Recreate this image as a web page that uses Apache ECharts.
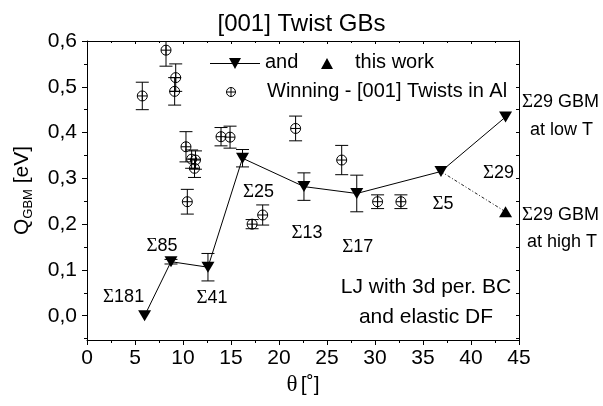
<!DOCTYPE html>
<html>
<head>
<meta charset="utf-8">
<script src="https://cdn.jsdelivr.net/npm/echarts@6/dist/echarts.min.js"></script>
<style>
  html, body { margin: 0; padding: 0; background: #fff; }
  #chart { width: 603px; height: 406px; }
</style>
</head>
<body>
<div id="chart"></div>
<script>
// LJ simulation: GB migration activation energy of [001] twist boundaries
const simTheta = [6.0, 8.75, 12.6, 16.2, 22.6, 28.1, 36.87, 43.6];
const simQ     = [0.0, 0.118, 0.106, 0.344, 0.282, 0.267, 0.315, 0.434];
const simErr   = [0, 0.005, 0.03, 0.019, 0.03, 0.04, 0, 0];
const simNames = ['181', '85', '41', '25', '13', '17', '5', '29'];

// Σ29 at high temperature
const highTTheta = 43.6;
const highTQ = 0.227;

// Winning – [001] twists in Al
const expTheta = [5.76, 8.23, 9.24, 9.13, 10.31, 10.9, 11.3, 11.2, 10.45, 13.96, 14.9, 21.73, 17.2, 18.3, 26.53, 30.27, 32.7];
const expQ     = [0.480, 0.580, 0.520, 0.490, 0.369, 0.342, 0.340, 0.322, 0.249, 0.391, 0.390, 0.409, 0.200, 0.220, 0.340, 0.249, 0.249];
const expErr   = [0.030, 0.035, 0.030, 0.030, 0.033, 0.020, 0.020, 0.020, 0.027, 0.020, 0.024, 0.027, 0.010, 0.022, 0.032, 0.015, 0.015];

// axis ticks
const yMajor = [0, 0.1, 0.2, 0.3, 0.4, 0.5, 0.6];
const yMinor = [-0.05, 0.05, 0.15, 0.25, 0.35, 0.45, 0.55];

// label placement around the simulation points (pixels from the marker)
const sigmaOffsets = [[-21, -19], [-9, -16], [4, 31], [16, 34], [3, 46], [1, 54], [2, 33], [-7, 56]];

const SANS = '"Liberation Sans", Arial, Helvetica, sans-serif';
const SERIF = '"Liberation Serif", "Times New Roman", serif';
const BLACK = '#000';

const chart = echarts.init(document.getElementById('chart'), null, { renderer: 'canvas' });

function errorBar(api, x, y, e, children) {
  const lo = api.coord([x, y - e]);
  const hi = api.coord([x, y + e]);
  const w = 6.5;
  const st = { stroke: BLACK, lineWidth: 1 };
  children.push(
    { type: 'line', shape: { x1: lo[0], y1: lo[1], x2: hi[0], y2: hi[1] }, style: st },
    { type: 'line', shape: { x1: lo[0] - w, y1: lo[1], x2: lo[0] + w, y2: lo[1] }, style: st },
    { type: 'line', shape: { x1: hi[0] - w, y1: hi[1], x2: hi[0] + w, y2: hi[1] }, style: st }
  );
}

const simErrData = simTheta.map((t, i) => [t, simQ[i], simErr[i]]).filter(d => d[2] > 0);
const expData = expTheta.map((t, i) => [t, expQ[i], expErr[i]]);

const simLineData = simTheta.map((t, i) => ({
  value: [t, simQ[i]],
  label: {
    show: true,
    position: 'inside',
    formatter: '{g|Σ}{n|' + simNames[i] + '}',
    rich: {
      g: { fontFamily: SERIF, fontSize: 19, color: BLACK },
      n: { fontFamily: SANS, fontSize: 18, color: BLACK }
    }
  }
}));

const option = {
  animation: false,
  backgroundColor: '#fff',
  title: {
    text: '[001] Twist GBs',
    left: 'center',
    top: 7,
    textStyle: { fontFamily: SANS, fontSize: 24, fontWeight: 'normal', color: BLACK }
  },
  grid: { left: 87, right: 84, top: 41, bottom: 66, containLabel: false, outerBoundsMode: 'none' },
  xAxis: [
    {
      type: 'value', position: 'bottom', min: 0, max: 45, interval: 5,
      name: '{t|θ} {b|[˚]}',
      nameLocation: 'middle', nameGap: 30,
      nameTextStyle: {
        rich: {
          t: { fontFamily: SERIF, fontSize: 23, color: BLACK },
          b: { fontFamily: SANS, fontSize: 21, color: BLACK }
        }
      },
      axisLine: { onZero: false, lineStyle: { color: BLACK, width: 1 } },
      axisTick: { show: true, length: 5, lineStyle: { color: BLACK } },
      minorTick: { show: true, splitNumber: 2, length: 3, lineStyle: { color: BLACK } },
      axisLabel: { fontFamily: SANS, fontSize: 21, color: BLACK, margin: 8 },
      splitLine: { show: false }
    },
    {
      type: 'value', position: 'top', min: 0, max: 45, interval: 5,
      axisLine: { show: true, onZero: false, lineStyle: { color: BLACK, width: 1 } },
      axisTick: { show: true, inside: true, length: 3, lineStyle: { color: BLACK } },
      minorTick: { show: true, splitNumber: 2, length: 2, lineStyle: { color: BLACK } },
      axisLabel: { show: false },
      splitLine: { show: false }
    }
  ],
  yAxis: [
    {
      type: 'value', position: 'left', min: -0.053, max: 0.6,
      name: '{q|Q}{s|GBM}{q| [eV]}',
      nameLocation: 'middle', nameRotate: 90, nameGap: 52,
      nameTextStyle: {
        rich: {
          q: { fontFamily: SANS, fontSize: 21, lineHeight: 26, color: BLACK },
          s: { fontFamily: SANS, fontSize: 13, lineHeight: 14, verticalAlign: 'bottom', color: BLACK }
        }
      },
      axisLine: { show: true, onZero: false, lineStyle: { color: BLACK, width: 1 } },
      axisTick: { show: true, length: 5, customValues: yMajor, lineStyle: { color: BLACK } },
      axisLabel: {
        fontFamily: SANS, fontSize: 21, color: BLACK, margin: 10,
        customValues: yMajor,
        formatter: v => v.toFixed(1).replace('.', ',')
      },
      splitLine: { show: false }
    },
    {
      type: 'value', position: 'left', min: -0.053, max: 0.6,
      axisLine: { show: false, onZero: false },
      axisTick: { show: true, length: 3, customValues: yMinor, lineStyle: { color: BLACK } },
      axisLabel: { show: false, customValues: yMinor },
      splitLine: { show: false }
    },
    {
      type: 'value', position: 'right', min: -0.053, max: 0.6,
      axisLine: { show: true, onZero: false, lineStyle: { color: BLACK, width: 1 } },
      axisTick: { show: true, inside: true, length: 3, customValues: yMajor.concat(yMinor), lineStyle: { color: BLACK } },
      axisLabel: { show: false, customValues: yMajor },
      splitLine: { show: false }
    }
  ],
  series: [
    {
      name: 'sim error',
      type: 'custom',
      xAxisIndex: 0, yAxisIndex: 0,
      clip: true,
      data: simErrData,
      renderItem: (params, api) => {
        const children = [];
        errorBar(api, api.value(0), api.value(1), api.value(2), children);
        return { type: 'group', children };
      },
      z: 2
    },
    {
      name: 'Winning - [001] Twists in Al',
      type: 'custom',
      xAxisIndex: 0, yAxisIndex: 0,
      clip: true,
      data: expData,
      renderItem: (params, api) => {
        const x = api.value(0), y = api.value(1), e = api.value(2);
        const children = [];
        errorBar(api, x, y, e, children);
        const c = api.coord([x, y]);
        const r = 5;
        children.push(
          { type: 'circle', shape: { cx: c[0], cy: c[1], r }, style: { fill: 'none', stroke: BLACK, lineWidth: 1 } },
          { type: 'line', shape: { x1: c[0] - r, y1: c[1], x2: c[0] + r, y2: c[1] }, style: { stroke: BLACK, lineWidth: 1 } },
          { type: 'line', shape: { x1: c[0], y1: c[1] - r, x2: c[0], y2: c[1] + r }, style: { stroke: BLACK, lineWidth: 1 } }
        );
        return { type: 'group', children };
      },
      z: 2
    },
    {
      name: 'Σ29 high T',
      type: 'line',
      xAxisIndex: 0, yAxisIndex: 0,
      data: [
        { value: [simTheta[6], simQ[6]], symbol: 'none' },
        { value: [highTTheta, highTQ], symbol: 'triangle', symbolSize: [13, 11] }
      ],
      lineStyle: { color: '#222', width: 1, type: [3, 2, 1, 2] },
      itemStyle: { color: BLACK },
      z: 3
    },
    {
      name: 'this work',
      type: 'line',
      xAxisIndex: 0, yAxisIndex: 0,
      data: simLineData,
      symbol: 'triangle',
      symbolRotate: 180,
      symbolSize: [13, 11],
      showAllSymbol: true,
      lineStyle: { color: BLACK, width: 1 },
      itemStyle: { color: BLACK },
      labelLayout: params => ({
        dx: sigmaOffsets[params.dataIndex][0],
        dy: sigmaOffsets[params.dataIndex][1],
        hideOverlap: false
      }),
      z: 4
    }
  ],
  graphic: [
    // legend
    { type: 'line', shape: { x1: 210, y1: 63.5, x2: 260, y2: 63.5 }, style: { stroke: BLACK, lineWidth: 1 } },
    { type: 'polygon', shape: { points: [[229, 58], [241, 58], [235, 69]] }, style: { fill: BLACK } },
    { type: 'text', left: 265, top: 52, style: { text: 'and', fontFamily: SANS, fontSize: 20, fill: BLACK } },
    { type: 'polygon', shape: { points: [[327, 58], [333, 69], [321, 69]] }, style: { fill: BLACK } },
    { type: 'text', left: 355, top: 52, style: { text: 'this work', fontFamily: SANS, fontSize: 20, fill: BLACK } },
    { type: 'circle', shape: { cx: 231, cy: 92, r: 4.5 }, style: { fill: 'none', stroke: BLACK, lineWidth: 1 } },
    { type: 'line', shape: { x1: 226.5, y1: 92, x2: 235.5, y2: 92 }, style: { stroke: BLACK, lineWidth: 1 } },
    { type: 'line', shape: { x1: 231, y1: 87.5, x2: 231, y2: 96.5 }, style: { stroke: BLACK, lineWidth: 1 } },
    { type: 'text', left: 267, top: 81, style: { text: 'Winning - [001] Twists in Al', fontFamily: SANS, fontSize: 20, fill: BLACK } },
    // model note
    { type: 'text', x: 426, y: 287, style: { text: 'LJ with 3d per. BC', fontFamily: SANS, fontSize: 21, fill: BLACK, align: 'center', verticalAlign: 'middle' } },
    { type: 'text', x: 426, y: 317, style: { text: 'and elastic DF', fontFamily: SANS, fontSize: 21, fill: BLACK, align: 'center', verticalAlign: 'middle' } },
    // Σ29 notes beside the frame
    { type: 'text', x: 522, y: 102, style: { text: '{g|Σ}29 GBM', rich: { g: { fontFamily: SERIF, fontSize: 19 } }, fontFamily: SANS, fontSize: 18, fill: BLACK, verticalAlign: 'middle' } },
    { type: 'text', x: 530, y: 130, style: { text: 'at low T', fontFamily: SANS, fontSize: 18, fill: BLACK, verticalAlign: 'middle' } },
    { type: 'text', x: 522, y: 215, style: { text: '{g|Σ}29 GBM', rich: { g: { fontFamily: SERIF, fontSize: 19 } }, fontFamily: SANS, fontSize: 18, fill: BLACK, verticalAlign: 'middle' } },
    { type: 'text', x: 527, y: 242, style: { text: 'at high T', fontFamily: SANS, fontSize: 18, fill: BLACK, verticalAlign: 'middle' } }
  ]
};

chart.setOption(option);
</script>
</body>
</html>
